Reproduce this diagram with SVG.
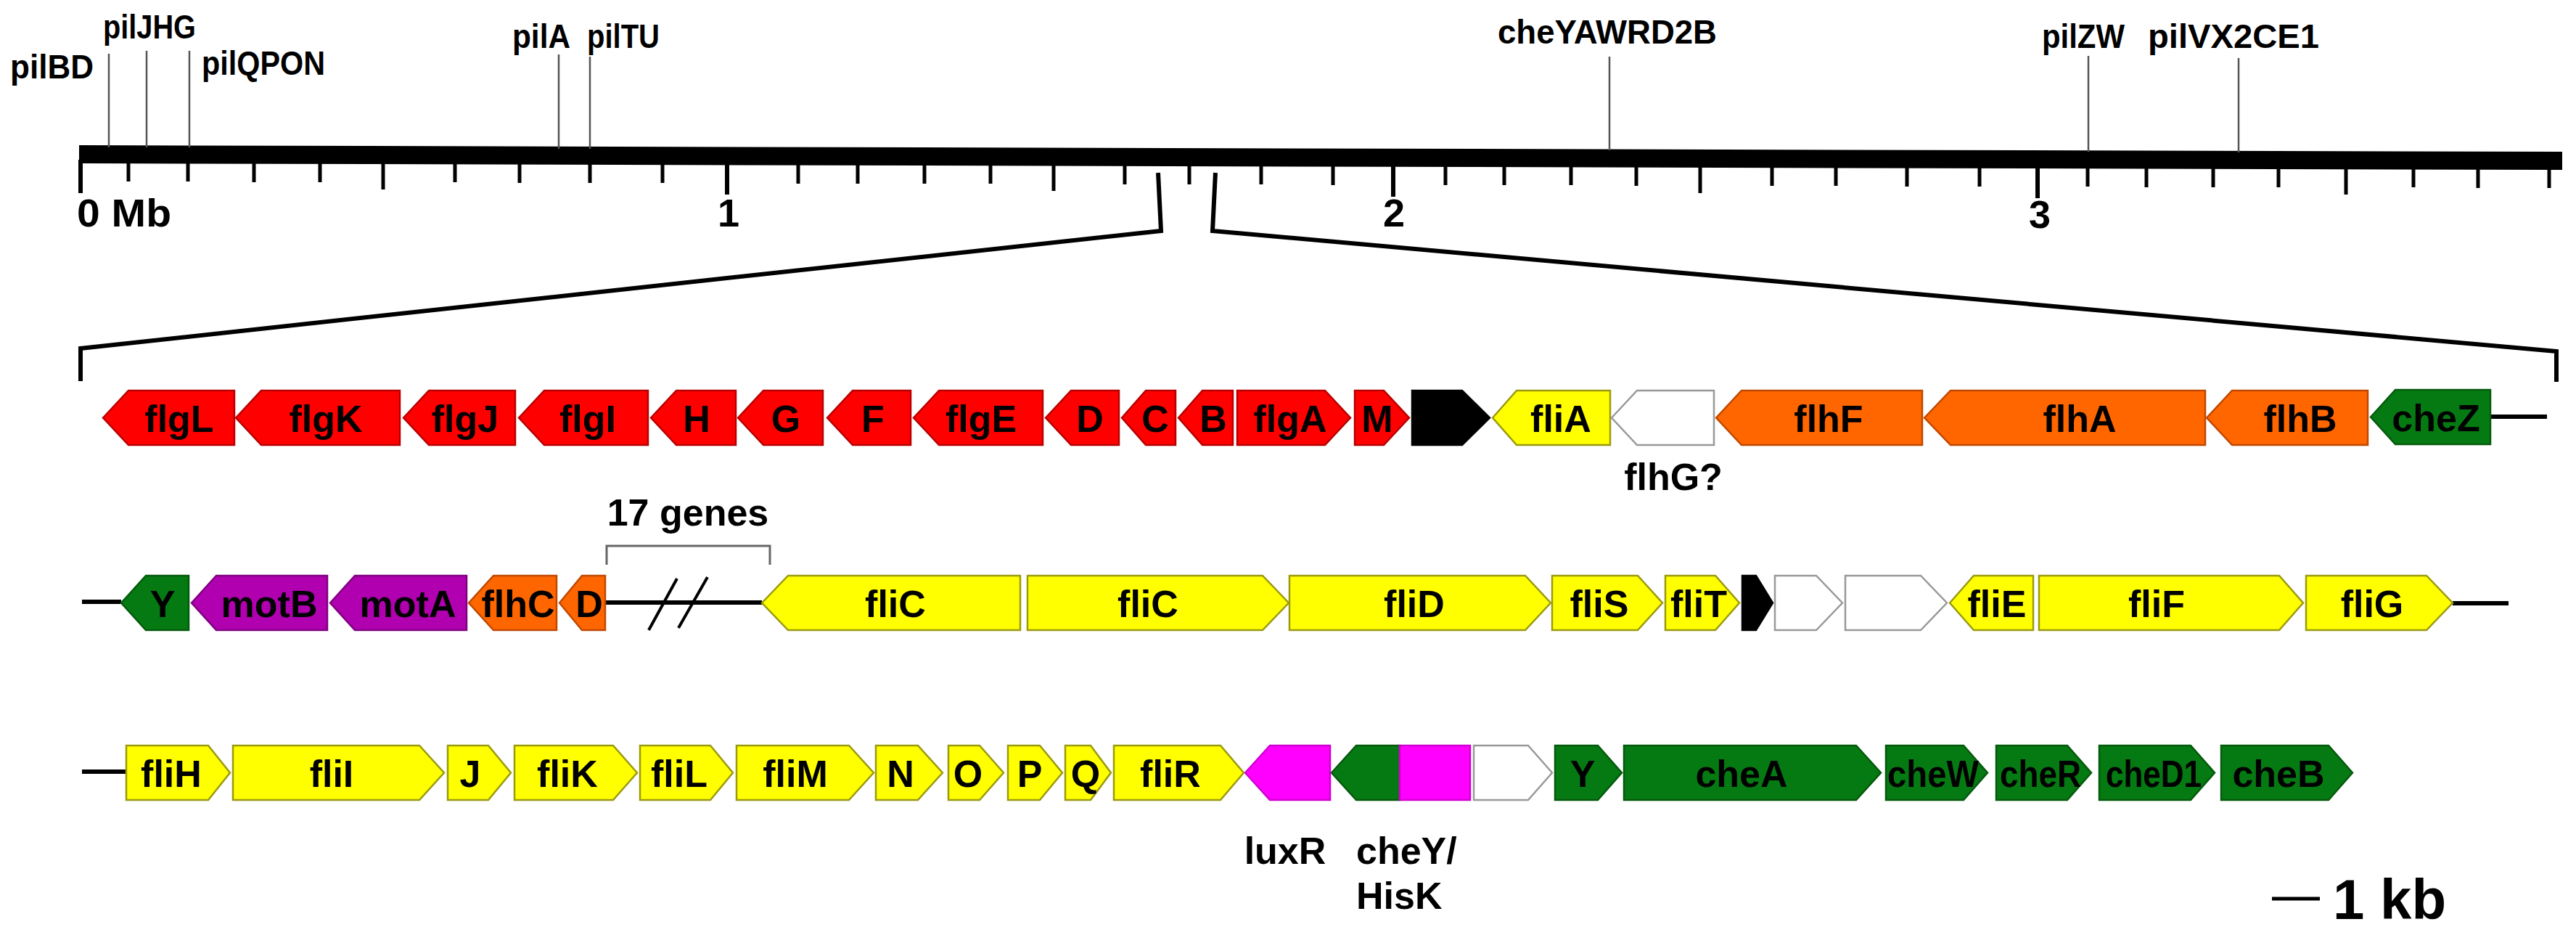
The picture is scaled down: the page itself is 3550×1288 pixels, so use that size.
<svg xmlns="http://www.w3.org/2000/svg" width="3550" height="1288" viewBox="0 0 3550 1288">
<style>
.bg{fill:#fff}
.pl{stroke:#555;stroke-width:2.5;fill:none}
.tk{stroke:#000;stroke-width:5;fill:none}
.tkM{stroke:#000;stroke-width:6;fill:none}
.ln{stroke:#000;stroke-width:6;fill:none}
.br{stroke:#000;stroke-width:6;fill:none;stroke-linejoin:miter}
.gb{stroke:#666;stroke-width:3;fill:none}
.top{font-family:"Liberation Sans",Arial,sans-serif;font-weight:bold;font-size:46px;fill:#000}
.mb{font-family:"Liberation Sans",Arial,sans-serif;font-weight:bold;font-size:54px;fill:#000}
.lbl{font-family:"Liberation Sans",Arial,sans-serif;font-weight:bold;font-size:52px;fill:#000;text-anchor:middle}
.ext{font-family:"Liberation Sans",Arial,sans-serif;font-weight:bold;font-size:52px;fill:#000}
polygon,rect.gene{stroke-width:2.5;stroke-linejoin:miter}
.red{fill:#ff0000;stroke:#b80000}
.org{fill:#ff6600;stroke:#c04800}
.yel{fill:#ffff00;stroke:#9a9a10}
.grn{fill:#067a12;stroke:#045a0c}
.pur{fill:#b000b0;stroke:#800080}
.mag{fill:#ff00ff;stroke:#d000d0}
.wht{fill:#ffffff;stroke:#999}
.blk{fill:#000;stroke:#000}
</style>
<rect class="bg" x="0" y="0" width="3550" height="1288"/>

<g id="chromosome">
  <polygon points="109,200 3531,209 3531,234 109,225" fill="#000"/>
  <g id="ticks">
    <path class="tkM" d="M111,220V266M1002,222V268M1920,225V271M2808,228V273"/>
    <path class="tk" d="M528,222V261M1452,224V263M2343,226V266M3233,229V268"/>
    <path class="tk" d="M177,222V250M259,222V250M350,222V251M441,222V251M627,222V251M716,222V252M813,222V252M913,222V252M1100,223V253M1182,223V253M1274,223V253M1365,223V253M1550,224V254M1639,224V254M1738,224V254M1837,225V255M1992,225V255M2073,225V255M2165,226V255M2255,226V256M2442,226V256M2530,227V256M2628,227V257M2728,228V257M2877,228V257M2958,229V258M3050,229V258M3140,229V258M3326,230V258M3415,230V259M3513,230V259"/>
  </g>
  <g id="tick-labels">
    <text class="mb" x="106" y="312" textLength="130" lengthAdjust="spacingAndGlyphs">0 Mb</text>
    <text class="mb" x="1004" y="312" text-anchor="middle">1</text>
    <text class="mb" x="1921" y="312" text-anchor="middle">2</text>
    <text class="mb" x="2811" y="314" text-anchor="middle">3</text>
  </g>
</g>

<g id="loci">
  <g id="pilBD"><path class="pl" d="M150,74V203"/><text class="top" x="14" y="108" textLength="115" lengthAdjust="spacingAndGlyphs">pilBD</text></g>
  <g id="pilJHG"><path class="pl" d="M202,70V203"/><text class="top" x="142" y="53" textLength="128" lengthAdjust="spacingAndGlyphs">pilJHG</text></g>
  <g id="pilQPON"><path class="pl" d="M261,70V203"/><text class="top" x="278" y="103" textLength="170" lengthAdjust="spacingAndGlyphs">pilQPON</text></g>
  <g id="pilA"><path class="pl" d="M770,75V205"/><text class="top" x="706" y="66" textLength="80" lengthAdjust="spacingAndGlyphs">pilA</text></g>
  <g id="pilTU"><path class="pl" d="M813,78V205"/><text class="top" x="809" y="66" textLength="100" lengthAdjust="spacingAndGlyphs">pilTU</text></g>
  <g id="cheYAWRD2B"><path class="pl" d="M2218,78V207"/><text class="top" x="2064" y="60" textLength="302" lengthAdjust="spacingAndGlyphs">cheYAWRD2B</text></g>
  <g id="pilZW"><path class="pl" d="M2878,77V209"/><text class="top" x="2814" y="66" textLength="114" lengthAdjust="spacingAndGlyphs">pilZW</text></g>
  <g id="pilVX2CE1"><path class="pl" d="M3085,80V210"/><text class="top" x="2960" y="66" textLength="236" lengthAdjust="spacingAndGlyphs">pilVX2CE1</text></g>
</g>

<g id="connectors">
  <path class="br" d="M1596,238L1600,318L111,480V525"/>
  <path class="br" d="M1675,238L1671,318L3523,484V526"/>
  <path class="ln" d="M3432,574H3510"/>
  <path class="ln" d="M113,829H167"/>
  <path class="ln" d="M834,830H1050"/>
  <path class="ln" d="M894,868L933,797M935,865L975,795" style="stroke-width:4"/>
  <path class="ln" d="M3380,831H3457"/>
  <path class="ln" d="M113,1063H174"/>
  <path class="gb" d="M836,778V752H1061V778"/>
</g>

<g id="row1">
  <g id="flgL"><polygon class="red" points="142,575.5 177,538 323,538 323,613 177,613"/><text class="lbl" x="247" y="595">flgL</text></g>
  <g id="flgK"><polygon class="red" points="325,575.5 360,538 551,538 551,613 360,613"/><text class="lbl" x="449" y="595">flgK</text></g>
  <g id="flgJ"><polygon class="red" points="556,575.5 591,538 710,538 710,613 591,613"/><text class="lbl" x="641" y="595">flgJ</text></g>
  <g id="flgI"><polygon class="red" points="715,575.5 750,538 893,538 893,613 750,613"/><text class="lbl" x="810" y="595">flgI</text></g>
  <g id="flgH"><polygon class="red" points="897,575.5 932,538 1014,538 1014,613 932,613"/><text class="lbl" x="960" y="595">H</text></g>
  <g id="flgG"><polygon class="red" points="1017,575.5 1052,538 1134,538 1134,613 1052,613"/><text class="lbl" x="1083" y="595">G</text></g>
  <g id="flgF"><polygon class="red" points="1140,575.5 1175,538 1255,538 1255,613 1175,613"/><text class="lbl" x="1203" y="595">F</text></g>
  <g id="flgE"><polygon class="red" points="1259,575.5 1294,538 1437,538 1437,613 1294,613"/><text class="lbl" x="1352" y="595">flgE</text></g>
  <g id="flgD"><polygon class="red" points="1441,575.5 1476,538 1542,538 1542,613 1476,613"/><text class="lbl" x="1502" y="595">D</text></g>
  <g id="flgC"><polygon class="red" points="1546,575.5 1579,538 1620,538 1620,613 1579,613"/><text class="lbl" x="1592" y="595">C</text></g>
  <g id="flgB"><polygon class="red" points="1624,575.5 1657,538 1699,538 1699,613 1657,613"/><text class="lbl" x="1672" y="595">B</text></g>
  <g id="flgA"><polygon class="red" points="1705,538 1826,538 1861,575.5 1826,613 1705,613"/><text class="lbl" x="1778" y="595">flgA</text></g>
  <g id="flgM"><polygon class="red" points="1867,538 1907,538 1942,575.5 1907,613 1867,613"/><text class="lbl" x="1898" y="595">M</text></g>
  <g id="unk1"><polygon class="blk" points="1946,538 2015,538 2053,575.5 2015,613 1946,613"/></g>
  <g id="fliA"><polygon class="yel" points="2057,575.5 2090,538 2219,538 2219,613 2090,613"/><text class="lbl" x="2151" y="595">fliA</text></g>
  <g id="flhG"><polygon class="wht" points="2221,575.5 2256,538 2362,538 2362,613 2256,613"/><text class="ext" x="2306" y="675" text-anchor="middle">flhG?</text></g>
  <g id="flhF"><polygon class="org" points="2365,575.5 2400,538 2649,538 2649,613 2400,613"/><text class="lbl" x="2520" y="595">flhF</text></g>
  <g id="flhA"><polygon class="org" points="2652,575.5 2688,538 3039,538 3039,613 2688,613"/><text class="lbl" x="2866" y="595">flhA</text></g>
  <g id="flhB"><polygon class="org" points="3041,575.5 3076,538 3263,538 3263,613 3076,613"/><text class="lbl" x="3170" y="595">flhB</text></g>
  <g id="cheZ"><polygon class="grn" points="3267,574.5 3301,537 3432,537 3432,612 3301,612"/><text class="lbl" x="3357" y="594">cheZ</text></g>
</g>

<g id="row2">
  <g id="cheY1"><polygon class="grn" points="167,830.5 201,793 260,793 260,868 201,868"/><text class="lbl" x="224" y="850">Y</text></g>
  <g id="motB"><polygon class="pur" points="264,830.5 298,793 451,793 451,868 298,868"/><text class="lbl" x="371" y="850">motB</text></g>
  <g id="motA"><polygon class="pur" points="455,830.5 489,793 643,793 643,868 489,868"/><text class="lbl" x="562" y="850">motA</text></g>
  <g id="flhC"><polygon class="org" points="646,830.5 680,793 767,793 767,868 680,868"/><text class="lbl" x="714" y="850">flhC</text></g>
  <g id="flhD"><polygon class="org" points="771,830.5 802,793 834,793 834,868 802,868"/><text class="lbl" x="812" y="850">D</text></g>
  <g id="genes17"><text class="ext" x="948" y="724" text-anchor="middle">17 genes</text></g>
  <g id="fliC1"><polygon class="yel" points="1050,830.5 1086,793 1406,793 1406,868 1086,868"/><text class="lbl" x="1234" y="850">fliC</text></g>
  <g id="fliC2"><polygon class="yel" points="1416,793 1740,793 1776,830.5 1740,868 1416,868"/><text class="lbl" x="1582" y="850">fliC</text></g>
  <g id="fliD"><polygon class="yel" points="1777,793 2102,793 2137,830.5 2102,868 1777,868"/><text class="lbl" x="1949" y="850">fliD</text></g>
  <g id="fliS"><polygon class="yel" points="2139,793 2257,793 2291,830.5 2257,868 2139,868"/><text class="lbl" x="2204" y="850">fliS</text></g>
  <g id="fliT"><polygon class="yel" points="2295,793 2364,793 2397,830.5 2364,868 2295,868"/><text class="lbl" x="2341" y="850">fliT</text></g>
  <g id="unk2"><polygon class="blk" points="2401,793 2420,793 2443,830.5 2420,868 2401,868"/></g>
  <g id="unk3"><polygon class="wht" points="2446,793 2503,793 2539,830.5 2503,868 2446,868"/></g>
  <g id="unk4"><polygon class="wht" points="2543,793 2647,793 2683,830.5 2647,868 2543,868"/></g>
  <g id="fliE"><polygon class="yel" points="2687,830.5 2720,793 2802,793 2802,868 2720,868"/><text class="lbl" x="2752" y="850">fliE</text></g>
  <g id="fliF"><polygon class="yel" points="2810,793 3141,793 3174,830.5 3141,868 2810,868"/><text class="lbl" x="2972" y="850">fliF</text></g>
  <g id="fliG"><polygon class="yel" points="3178,793 3344,793 3380,830.5 3344,868 3178,868"/><text class="lbl" x="3269" y="850">fliG</text></g>
</g>

<g id="row3">
  <g id="fliH"><polygon class="yel" points="174,1027 287,1027 317,1064.5 287,1102 174,1102"/><text class="lbl" x="236" y="1084">fliH</text></g>
  <g id="fliI"><polygon class="yel" points="321,1027 578,1027 612,1064.5 578,1102 321,1102"/><text class="lbl" x="457" y="1084">fliI</text></g>
  <g id="fliJ"><polygon class="yel" points="617,1027 673,1027 704,1064.5 673,1102 617,1102"/><text class="lbl" x="648" y="1084">J</text></g>
  <g id="fliK"><polygon class="yel" points="709,1027 845,1027 878,1064.5 845,1102 709,1102"/><text class="lbl" x="782" y="1084">fliK</text></g>
  <g id="fliL"><polygon class="yel" points="882,1027 979,1027 1010,1064.5 979,1102 882,1102"/><text class="lbl" x="936" y="1084">fliL</text></g>
  <g id="fliM"><polygon class="yel" points="1015,1027 1170,1027 1204,1064.5 1170,1102 1015,1102"/><text class="lbl" x="1096" y="1084">fliM</text></g>
  <g id="fliN"><polygon class="yel" points="1207,1027 1265,1027 1299,1064.5 1265,1102 1207,1102"/><text class="lbl" x="1241" y="1084">N</text></g>
  <g id="fliO"><polygon class="yel" points="1307,1027 1350,1027 1383,1064.5 1350,1102 1307,1102"/><text class="lbl" x="1334" y="1084">O</text></g>
  <g id="fliP"><polygon class="yel" points="1389,1027 1433,1027 1464,1064.5 1433,1102 1389,1102"/><text class="lbl" x="1419" y="1084">P</text></g>
  <g id="fliQ"><polygon class="yel" points="1468,1027 1503,1027 1531,1064.5 1503,1102 1468,1102"/><text class="lbl" x="1496" y="1084">Q</text></g>
  <g id="fliR"><polygon class="yel" points="1535,1027 1682,1027 1714,1064.5 1682,1102 1535,1102"/><text class="lbl" x="1613" y="1084">fliR</text></g>
  <g id="luxR"><polygon class="mag" points="1716,1064.5 1750,1027 1833,1027 1833,1102 1750,1102"/><text class="ext" x="1771" y="1190" text-anchor="middle">luxR</text></g>
  <g id="cheYHisK"><polygon class="grn" points="1835,1064.5 1869,1027 1929,1027 1929,1102 1869,1102"/><rect class="gene mag" x="1929" y="1027" width="97" height="75"/><text class="ext" x="1869" y="1190">cheY/</text><text class="ext" x="1869" y="1252">HisK</text></g>
  <g id="unk5"><polygon class="wht" points="2031,1027 2106,1027 2139,1064.5 2106,1102 2031,1102"/></g>
  <g id="cheY2"><polygon class="grn" points="2143,1027 2202,1027 2235,1064.5 2202,1102 2143,1102"/><text class="lbl" x="2181" y="1084">Y</text></g>
  <g id="cheA"><polygon class="grn" points="2238,1027 2558,1027 2592,1064.5 2558,1102 2238,1102"/><text class="lbl" x="2400" y="1084">cheA</text></g>
  <g id="cheW"><polygon class="grn" points="2599,1027 2706,1027 2739,1064.5 2706,1102 2599,1102"/><text class="lbl" x="2664" y="1084" textLength="126" lengthAdjust="spacingAndGlyphs">cheW</text></g>
  <g id="cheR"><polygon class="grn" points="2751,1027 2849,1027 2882,1064.5 2849,1102 2751,1102"/><text class="lbl" x="2812" y="1084" textLength="112" lengthAdjust="spacingAndGlyphs">cheR</text></g>
  <g id="cheD1"><polygon class="grn" points="2893,1027 3019,1027 3052,1064.5 3019,1102 2893,1102"/><text class="lbl" x="2968" y="1084" textLength="132" lengthAdjust="spacingAndGlyphs">cheD1</text></g>
  <g id="cheB"><polygon class="grn" points="3061,1027 3209,1027 3242,1064.5 3209,1102 3061,1102"/><text class="lbl" x="3140" y="1084">cheB</text></g>
</g>

<g id="scalebar">
  <path class="ln" d="M3131,1238H3197" style="stroke-width:5"/>
  <text class="ext" x="3215" y="1266" style="font-size:78px">1 kb</text>
</g>
</svg>
